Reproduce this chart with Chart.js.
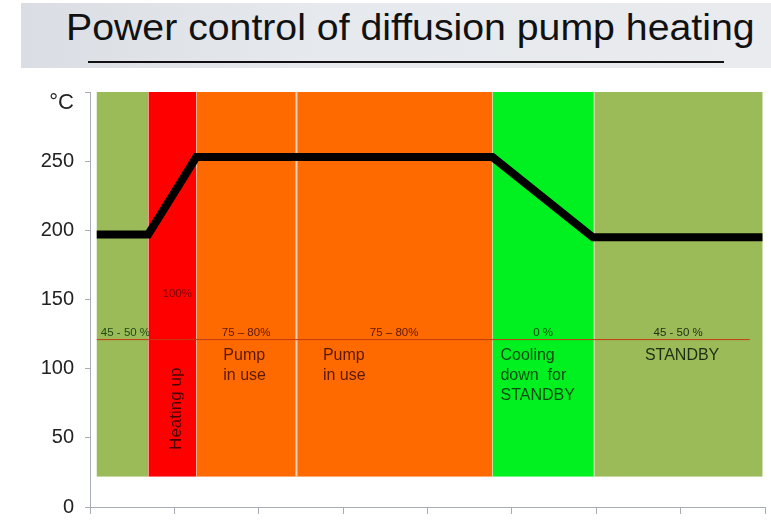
<!DOCTYPE html>
<html>
<head>
<meta charset="utf-8">
<script src="https://cdn.jsdelivr.net/npm/chart.js@4/dist/chart.umd.min.js"></script>
<style>
    html, body { margin: 0; padding: 0; background: #fff; }
    body { width: 771px; height: 521px; position: relative; overflow: hidden; font-family: "Liberation Sans", Arial, sans-serif; }
    .band {
        position: absolute; left: 21px; top: 3px; width: 750px; height: 65px;
        background: linear-gradient(90deg, #dadee4 0%, #e6e9ed 40%, #e9ebee 100%);
    }
    .band h1 {
        margin: 0; position: absolute; left: 45px; top: 4px;
        font-weight: normal; font-size: 36px; color: #111; white-space: nowrap;
        transform: scaleX(1.09); transform-origin: left top;
    }
    .band .rule { position: absolute; left: 67px; top: 58px; width: 636px; height: 2px; background: #111; }
    #wrap { position: absolute; left: 0; top: 0; width: 771px; height: 521px; }
</style>
</head>
<body>
<div id="wrap"><canvas id="chart" width="771" height="521"></canvas></div>
<div class="band">
    <h1>Power control of diffusion pump heating</h1>
    <div class="rule"></div>
</div>
<script>
// zones along the (unlabelled) time axis, 0..8
const zoneStart = [0.08, 0.69, 1.26, 2.44, 4.77, 5.97];
const zoneEnd   = [0.69, 1.26, 2.44, 4.77, 5.97, 7.97];
const zoneBottom = 22;   // °C
const zoneTop = 300;
const zoneColors = ['#9bbb59', '#ff0000', '#ff6a00', '#ff6a00', '#00f020', '#9bbb59'];
const powerLabels = ['45 - 50 %', '100%', '75 – 80%', '75 – 80%', '0 %', '45 - 50 %'];
const powerLevel = [126, 154, 126, 126, 126, 126];
const stateLabels = [[], [], ['Pump', 'in use'], ['Pump', 'in use'], ['Cooling', 'down  for', 'STANDBY'], ['STANDBY']];
const heatingLabel = 'Heating up';

// temperature curve
const tempX = [0.08, 0.69, 1.26, 4.77, 5.96, 7.97];
const tempC = [197, 197, 253, 253, 195, 195];

// power reference line
const limitX = [0.08, 7.82];
const limitC = [121, 121];

const yTicks = [0, 50, 100, 150, 200, 250, 300];

const textColors = ['#1f4a12', '#7a0000', '#5a1800', '#5a1800', '#0b4a12', '#1d2e14'];

const zonesPlugin = {
    id: 'zones',
    beforeDatasetsDraw(chart) {
        const { ctx, scales: { x, y } } = chart;
        ctx.save();
        const top = y.getPixelForValue(zoneTop);
        const bot = y.getPixelForValue(zoneBottom);
        zoneStart.forEach((s, i) => {
            const x0 = x.getPixelForValue(s);
            const x1 = x.getPixelForValue(zoneEnd[i]);
            ctx.fillStyle = zoneColors[i];
            ctx.fillRect(x0, top, x1 - x0, bot - top);
        });
        // thin light seams between zones
        zoneStart.slice(1).forEach((s, i) => {
            const px = Math.round(x.getPixelForValue(s)) + 0.5;
            ctx.strokeStyle = i === 2 ? 'rgba(235,220,210,0.9)' : 'rgba(255,230,220,0.55)';
            ctx.lineWidth = i === 2 ? 2 : 1;
            ctx.beginPath();
            ctx.moveTo(px, top);
            ctx.lineTo(px, bot);
            ctx.stroke();
        });
        ctx.restore();
    },
    afterDatasetsDraw(chart) {
        const { ctx, scales: { x, y } } = chart;
        ctx.save();
        ctx.textBaseline = 'middle';
        // power percentages
        ctx.font = '11.5px "Liberation Sans", Arial';
        ctx.textAlign = 'center';
        powerLabels.forEach((t, i) => {
            let cx = (x.getPixelForValue(zoneStart[i]) + x.getPixelForValue(zoneEnd[i])) / 2;
            if (i === 1) cx += 5;
            if (i === 0) cx += 3;
            ctx.fillStyle = textColors[i];
            ctx.fillText(t, cx, y.getPixelForValue(powerLevel[i]));
        });
        // state descriptions
        ctx.font = '16px "Liberation Sans", Arial';
        stateLabels.forEach((lines, i) => {
            if (!lines.length) return;
            ctx.fillStyle = textColors[i];
            const y0 = y.getPixelForValue(121) + 16;
            if (lines.length === 1) {
                ctx.textAlign = 'center';
                const cx = (x.getPixelForValue(zoneStart[i]) + x.getPixelForValue(zoneEnd[i])) / 2;
                lines.forEach((l, k) => ctx.fillText(l, cx + 4, y0 + k * 20));
            } else {
                ctx.textAlign = 'left';
                const lx = x.getPixelForValue(zoneStart[i]) + (i === 4 ? 8 : 27);
                lines.forEach((l, k) => ctx.fillText(l, lx, y0 + k * 20));
            }
        });
        // rotated heating label
        ctx.translate((x.getPixelForValue(zoneStart[1]) + x.getPixelForValue(zoneEnd[1])) / 2 + 4, y.getPixelForValue(71));
        ctx.rotate(-Math.PI / 2);
        ctx.textAlign = 'center';
        ctx.fillStyle = '#4a0000';
        ctx.font = '17px "Liberation Sans", Arial';
        ctx.fillText(heatingLabel, 0, 0);
        ctx.restore();

        // unit label at the top of the y axis
        ctx.save();
        ctx.font = '22px "Liberation Sans", Arial';
        ctx.fillStyle = '#222';
        ctx.textAlign = 'right';
        ctx.textBaseline = 'middle';
        ctx.fillText('°C', x.left - 16, y.getPixelForValue(292));
        ctx.restore();
    }
};

new Chart(document.getElementById('chart'), {
    type: 'line',
    data: {
        datasets: [
            {
                label: 'Power',
                data: limitX.map((v, i) => ({ x: v, y: limitC[i] })),
                borderColor: '#c43a12',
                borderWidth: 1,
                pointRadius: 0
            },
            {
                label: 'Temperature',
                data: tempX.map((v, i) => ({ x: v, y: tempC[i] })),
                borderColor: '#000',
                borderWidth: 8,
                borderJoinStyle: 'miter',
                pointRadius: 0,
                tension: 0
            }
        ]
    },
    options: {
        responsive: false,
        animation: false,
        layout: { padding: { top: 92, right: 6, left: 0, bottom: 0 } },
        plugins: { legend: { display: false }, tooltip: { enabled: false } },
        scales: {
            x: {
                type: 'linear',
                min: 0,
                max: 8,
                ticks: { stepSize: 1, callback: () => '', font: { size: 1 }, padding: 0 },
                grid: { drawOnChartArea: false, drawTicks: true, tickLength: 7, color: '#a8adb5' },
                border: { color: '#a8adb5' },
                afterFit(axis) {
                    axis.height = 14;
                    axis.paddingLeft = 0;
                    axis.paddingRight = 0;
                }
            },
            y: {
                min: 0,
                max: 300,
                afterBuildTicks(axis) { axis.ticks = yTicks.map(v => ({ value: v })); },
                ticks: {
                    callback: v => (v === 300 ? '' : v),
                    color: '#222',
                    font: { family: '"Liberation Sans", Arial', size: 20 },
                    padding: 11
                },
                grid: { drawOnChartArea: false, drawTicks: true, tickLength: 5, color: '#a8adb5' },
                border: { color: '#a8adb5' },
                afterFit(axis) {
                    axis.width = 90;
                    axis.paddingTop = 0;
                    axis.paddingBottom = 0;
                }
            }
        }
    },
    plugins: [zonesPlugin]
});
</script>
</body>
</html>
